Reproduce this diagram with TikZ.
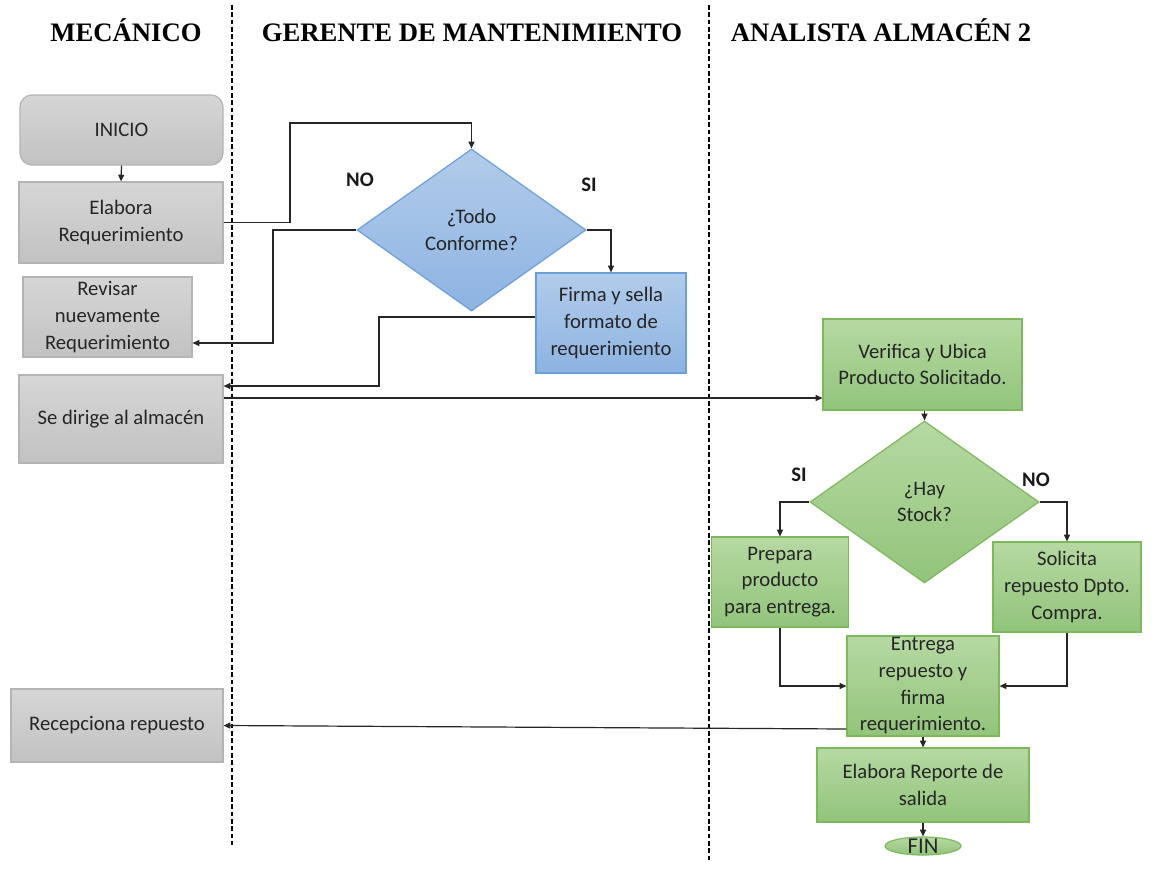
\documentclass[tikz,border=0pt]{standalone}
\usepackage{fontspec}
\setmainfont{Carlito}
\newfontfamily\hdrfont{Liberation Serif}
\usetikzlibrary{shapes.geometric,arrows.meta}

\definecolor{txt}{HTML}{262626}
\definecolor{grayT}{HTML}{D6D6D6}
\definecolor{grayB}{HTML}{C2C2C2}
\definecolor{grayE}{HTML}{B4B4B4}
\definecolor{blueT}{HTML}{B2CCEA}
\definecolor{blueB}{HTML}{8DB3E2}
\definecolor{blueE}{HTML}{6C9FD8}
\definecolor{greenT}{HTML}{B6D9A2}
\definecolor{greenB}{HTML}{92C47B}
\definecolor{greenE}{HTML}{7DB95C}

\tikzset{
  base/.style={inner sep=0pt, align=center, text=txt,
    font=\fontsize{15.5}{20}\selectfont},
  graybox/.style={base, rectangle, draw=grayE, line width=0.9pt,
    top color=grayT, bottom color=grayB},
  bluebox/.style={base, rectangle, draw=blueE, line width=0.9pt,
    top color=blueT, bottom color=blueB},
  greenbox/.style={base, rectangle, draw=greenE, line width=0.9pt,
    top color=greenT, bottom color=greenB},
  decision/.style={base, diamond, minimum width=171.75pt, minimum height=121.5pt,
    aspect=1.414, line width=0.9pt},
  arr/.style={draw=black!85, line width=0.9pt,
    -{Triangle[length=5pt,width=4.5pt]}},
  lane/.style={draw=black, line width=0.8pt, dash pattern=on 3.5pt off 2pt},
  header/.style={anchor=base, inner sep=0pt,
    font=\hdrfont\bfseries\fontsize{20}{24}\selectfont, text=black},
  choice/.style={font=\bfseries\fontsize{15.5}{18}\selectfont, text=black!90}
}

\begin{document}
\begin{tikzpicture}[x=0.75pt,y=-0.75pt]
\useasboundingbox (0,0) rectangle (1155,892);
\fill[white] (0,0) rectangle (1155,892);

% swimlane separators
\draw[lane] (232,5) -- (232,845);
\draw[lane] (709,5) -- (709,860);

% lane titles
\node[header] (h1) at (126,42) {MECÁNICO};
\node[header] (h2) at (472,42) {GERENTE DE MANTENIMIENTO};
\node[header] (h3) at (881,42) {ANALISTA ALMACÉN 2};

% mechanic lane
\node[graybox, rounded corners=9pt, minimum width=152.25pt, minimum height=52.5pt]
  (ini) at (121.5,130) {INICIO};
\node[graybox, minimum width=153pt, minimum height=60.75pt]
  (elab) at (121,222.5) {Elabora\\Requerimiento};
\node[graybox, minimum width=126.75pt, minimum height=60pt]
  (rev) at (107.5,317) {Revisar\\nuevamente\\Requerimiento};
\node[graybox, minimum width=153pt, minimum height=66pt]
  (alm) at (121,419) {Se dirige al almacén};
\node[graybox, minimum width=159pt, minimum height=54.75pt]
  (rec) at (117,725.5) {Recepciona repuesto};

% maintenance manager lane
\node[decision, draw=blueE, top color=blueT, bottom color=blueB]
  (d1) at (471.5,230) {¿Todo\\Conforme?};
\node[bluebox, minimum width=112.5pt, minimum height=75pt]
  (firma) at (611,323) {Firma y sella\\formato de\\requerimiento};

% warehouse analyst lane
\node[greenbox, minimum width=149.25pt, minimum height=68.25pt]
  (ver) at (922.5,364.5) {Verifica y Ubica\\Producto Solicitado.};
\node[decision, draw=greenE, top color=greenT, bottom color=greenB]
  (d2) at (924.5,502) {¿Hay\\Stock?};
\node[greenbox, minimum width=102.75pt, minimum height=67.5pt]
  (prep) at (780,582) {Prepara\\producto\\para entrega.};
\node[greenbox, minimum width=111pt, minimum height=67.5pt]
  (sol) at (1067,587) {Solicita\\repuesto Dpto.\\Compra.};
\node[greenbox, minimum width=114pt, minimum height=75pt]
  (ent) at (923,686) {Entrega\\repuesto y\\firma\\requerimiento.};
\node[greenbox, minimum width=159pt, minimum height=55.5pt]
  (rep) at (923,785) {Elabora Reporte de\\salida};
\node[base, ellipse, draw=greenE, line width=0.9pt, top color=greenT,
  bottom color=greenB, minimum width=57pt, minimum height=13.5pt] (fin) at (923,846) {};
\node[base, font=\fontsize{17}{20}\selectfont] (fint) at (923,846) {FIN};

% decision labels
\node[choice] (no1) at (360,180) {NO};
\node[choice] (si1) at (589,185) {SI};
\node[choice] (si2) at (799,475) {SI};
\node[choice] (no2) at (1036,480) {NO};

% turning points of the connectors
\coordinate (k1) at (290,123);
\coordinate (k2) at (273,343);
\coordinate (k3) at (379,317);
\coordinate (k4) at (379,386);
\coordinate (k5) at (0,398);
\coordinate (k6) at (0,729);

% connectors
\draw[arr] (ini.south) -- (elab.north);
\draw[arr] (elab.east) -| (k1) -| (d1.north);
\draw[arr] (d1.west) -| (k2) -- (rev.east |- k2);
\draw[arr] (d1.east) -| (firma.north);
\draw[arr] (firma.west |- k3) -- (k3) |- (alm.east |- k4);
\draw[arr] (alm.east |- k5) -- (ver.west |- k5);
\draw[arr] (ver.south -| d2.north) -- (d2.north);
\draw[arr] (d2.west) -| (prep.north);
\draw[arr] (d2.east) -| (sol.north);
\draw[arr] (prep.south) |- (ent.west);
\draw[arr] (sol.south) |- (ent.east);
\draw[arr] (ent.west |- k6) -- (rec.east);
\draw[arr] (ent.south) -- (rep.north);
\draw[arr] (rep.south) -- (fin.north);
\end{tikzpicture}
\end{document}
